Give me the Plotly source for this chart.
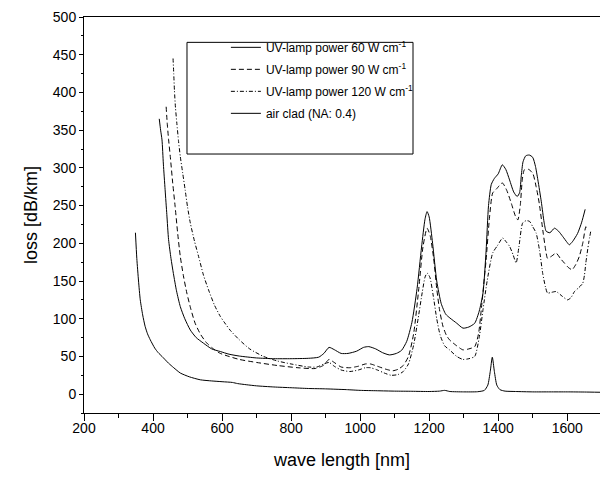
import plotly.graph_objects as go

# ---- data ----
air_x = [349, 353, 358, 363, 370, 377, 384, 392, 405, 415, 426, 445, 460, 479, 505, 537, 570, 600,
         630, 645, 670, 700, 750, 800, 850, 900, 930, 960, 1000, 1050, 1100, 1150, 1200, 1230, 1245,
         1260, 1300, 1340, 1360, 1370, 1377, 1383, 1389, 1396, 1405, 1420, 1450, 1500, 1550, 1600,
         1650, 1695]
air_y = [214, 180, 150, 125, 105, 90, 80, 72, 61, 55, 50, 41, 35, 28, 23, 19, 17.5, 16.5,
         15.5, 14, 12.5, 11, 9.5, 8.5, 7.5, 7, 6.5, 6, 5, 4.5, 4, 3.8, 3.5, 4, 5,
         3.5, 3, 3.2, 5, 12, 30, 49, 30, 12, 6, 4, 3.5, 3, 3, 3,
         2.8, 2.5]

uv60_x = [418, 422, 426, 430, 435, 440, 445, 452, 459, 468, 479, 492, 508, 525, 546, 570, 595, 620,
          650, 700, 750, 800, 850, 880, 895, 910, 925, 945, 965, 990, 1010, 1025, 1045, 1065, 1085,
          1105, 1120, 1135, 1150, 1165, 1178, 1188, 1194, 1200, 1210, 1222, 1235, 1248, 1260, 1280,
          1298, 1315, 1332, 1345, 1356, 1365, 1372, 1380, 1389, 1400, 1412, 1422, 1433, 1445, 1455,
          1462, 1467, 1472, 1480, 1490, 1500, 1508, 1515, 1525, 1533, 1539, 1550, 1563, 1575, 1587,
          1600, 1606, 1615, 1630, 1642, 1652]
uv60_y = [365, 350, 337, 305, 271, 238, 205, 180, 160, 137, 116, 100, 85, 75, 67.6, 60, 56.5, 53,
          50.5, 48, 47, 47, 47.5, 49, 54, 62, 59, 54, 54, 57, 62, 63, 60, 55, 52,
          54, 58, 70, 95, 140, 195, 232, 242, 235, 200, 150, 120, 106, 101, 94,
          87.5, 89, 94, 110, 134, 190, 250, 278, 286, 292, 304, 298, 284, 268, 262,
          267, 290, 308, 316, 317, 314, 302, 284, 255, 228, 216, 214, 220, 216, 209,
          201, 198, 202, 213, 228, 245]

uv90_x = [438, 441, 445, 450, 457, 464, 471, 479, 488, 498, 510, 522, 538, 556, 575, 595, 620, 650,
          700, 760, 820, 870, 893, 910, 925, 945, 970, 995, 1015, 1030, 1050, 1075, 1095, 1110, 1125,
          1140, 1155, 1170, 1182, 1194, 1203, 1213, 1222, 1230, 1240, 1250, 1259, 1280, 1298, 1315,
          1332, 1343, 1351, 1358, 1365, 1375, 1384, 1395, 1412, 1425, 1438, 1450, 1457, 1464, 1470,
          1476, 1488, 1500, 1510, 1519, 1530, 1538, 1543, 1555, 1568, 1580, 1592, 1603, 1614, 1625,
          1635, 1645, 1654, 1658]
uv90_y = [381, 360, 338, 315, 280, 249, 215, 182.5, 157, 134, 112, 94, 79, 67.6, 60, 54, 50, 46,
          42, 38, 35, 34, 38, 46, 42, 36, 35, 37, 40, 40, 37, 33, 31, 33, 38,
          50, 80, 140, 195, 220, 210, 180, 140, 112, 90, 78, 72, 64, 58.7, 60,
          63, 80, 112, 145, 178, 235, 266.6, 272, 280, 270, 253, 236, 231, 250, 285,
          297.5, 298, 293, 275, 253, 215, 190, 180, 183, 187, 180, 173.7, 168, 165, 172,
          182.5, 200, 222, 218]

uv120_x = [458, 460, 462, 465, 469, 474, 479, 486, 493, 500, 508, 520, 532, 546, 561, 578, 595, 610,
           623, 650, 680, 720, 760, 800, 850, 875, 895, 910, 925, 945, 970, 995, 1015, 1030, 1050,
           1070, 1090, 1110, 1125, 1140, 1155, 1168, 1180, 1188, 1194, 1202, 1212, 1222, 1232, 1245,
           1259, 1280, 1298, 1315, 1332, 1345, 1356, 1368, 1384, 1398, 1413, 1423, 1433, 1443, 1452,
           1460, 1471, 1481, 1491, 1500, 1510, 1520, 1529, 1537, 1543, 1555, 1568, 1585, 1601, 1611,
           1621, 1633, 1645, 1650, 1654, 1662, 1669]
uv120_y = [445, 425, 403, 380, 359, 335, 315, 293, 271, 248, 227, 203, 182.5, 158, 138, 118, 103, 93,
           85, 72, 60, 50, 44, 40, 36, 36, 40, 42, 37, 32, 30, 32, 35, 35, 32,
           28, 25, 26, 30, 40, 65, 100, 135, 155, 160.5, 155, 130, 100, 78, 64,
           58.7, 50, 46, 47, 50, 75, 112, 150, 187, 197, 207, 202, 196, 185, 174,
           195, 227, 230, 229, 222, 213.5, 190, 160, 142, 134, 135, 136, 130, 125, 128,
           136, 141, 147, 158, 174, 200, 218]

names = ["UV-lamp power 60 W cm<sup>-1</sup>",
         "UV-lamp power 90 W cm<sup>-1</sup>",
         "UV-lamp power 120 W cm<sup>-1</sup>",
         "air clad (NA: 0.4)"]

x_ticks = [200, 400, 600, 800, 1000, 1200, 1400, 1600]
y_ticks = [0, 50, 100, 150, 200, 250, 300, 350, 400, 450, 500]

FONT = "Liberation Sans, Arial, sans-serif"

fig = go.Figure()
series = [(uv60_x, uv60_y, "solid"),
          (uv90_x, uv90_y, "5px,3px"),
          (uv120_x, uv120_y, "4px,2px,1px,2px"),
          (air_x, air_y, "solid")]
for i, (xs, ys, dash) in enumerate(series):
    fig.add_trace(go.Scatter(
        x=xs, y=ys, mode="lines", name=names[i], legendgroup=f"g{i}",
        line=dict(color="black", width=1, dash=dash, shape="spline", smoothing=0.6),
    ))

# legend frame
fig.add_shape(type="rect", xref="paper", yref="paper",
              x0=0.1996, x1=0.6376, y0=0.654, y1=0.936,
              line=dict(color="black", width=1), fillcolor="rgba(0,0,0,0)")

fig.update_layout(
    width=600, height=479,
    margin=dict(l=84, r=0, t=17, b=66),
    paper_bgcolor="white", plot_bgcolor="white",
    font=dict(family=FONT, color="black"),
    showlegend=True,
    legend=dict(x=0.275, y=0.96, xanchor="left", yanchor="top",
                bgcolor="rgba(0,0,0,0)", borderwidth=0,
                font=dict(size=12, family=FONT), tracegroupgap=3),
    xaxis=dict(range=[200, 1695], tickvals=x_ticks, ticktext=[str(v) for v in x_ticks],
               showgrid=False, zeroline=False, showline=True, linecolor="black", linewidth=1,
               mirror=True, ticks="outside", ticklen=7, tickcolor="black",
               ticklabelstandoff=-5,
               minor=dict(dtick=100, tick0=200, ticks="outside", ticklen=4, tickcolor="black"),
               tickfont=dict(size=14, family=FONT),
               title=dict(text="wave length [nm]", font=dict(size=18, family=FONT), standoff=18)),
    yaxis=dict(range=[-25, 500], tickvals=y_ticks, ticktext=[str(v) for v in y_ticks],
               showgrid=False, zeroline=False, showline=True, linecolor="black", linewidth=1,
               ticks="outside", ticklen=4, tickcolor="black",
               minor=dict(dtick=25, tick0=0, ticks="outside", ticklen=2, tickcolor="black"),
               tickfont=dict(size=14, family=FONT),
               title=dict(text="loss [dB/km]", font=dict(size=18, family=FONT), standoff=10)),
)

fig.write_html("out.html")
